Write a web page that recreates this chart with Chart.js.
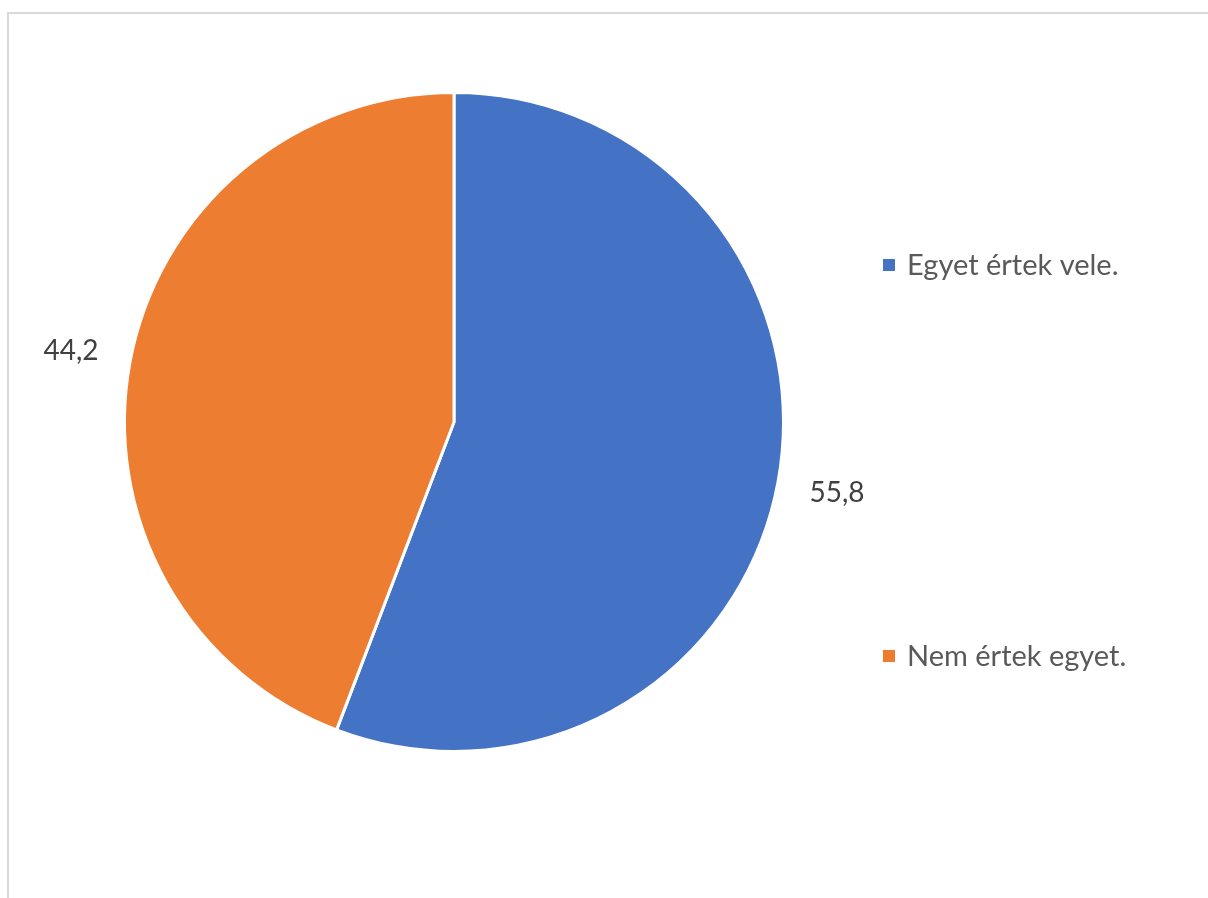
<!DOCTYPE html>
<html>
<head>
<meta charset="utf-8">
<script src="https://cdn.jsdelivr.net/npm/chart.js@4"></script>
<style>
  html, body { margin: 0; padding: 0; background: #fff; }
  #wrap { position: relative; width: 1208px; height: 898px; overflow: hidden; }
  #frame {
    position: absolute; left: 7px; top: 12px; width: 1300px; height: 1000px;
    border-left: 2px solid #d9d9d9; border-top: 2px solid #d9d9d9;
  }
  canvas { position: absolute; left: 0; top: 0; }
</style>
</head>
<body>
<div id="wrap">
  <div id="frame"></div>
  <canvas id="pie" width="1208" height="898"></canvas>
</div>
<script>
// Data
const categories = ['Egyet értek vele.', 'Nem értek egyet.'];
const values = [55.8, 44.2];
const sliceColors = ['#4472C4', '#ED7D31'];

const fontFamily = 'Lato, "Open Sans", sans-serif';

// value labels outside each slice
const valueLabels = {
    id: 'valueLabels',
    afterDatasetsDraw(chart) {
        const ctx = chart.ctx;
        const meta = chart.getDatasetMeta(0);
        ctx.save();
        ctx.font = '28px ' + fontFamily;
        ctx.fillStyle = '#404040';
        ctx.textAlign = 'center';
        ctx.textBaseline = 'middle';
        meta.data.forEach((arc, i) => {
            const mid = (arc.startAngle + arc.endAngle) / 2;
            const r = arc.outerRadius + 60;
            const x = arc.x + Math.cos(mid) * r;
            const y = arc.y + Math.sin(mid) * r;
            ctx.fillText(String(values[i]).replace('.', ','), x, y);
        });
        ctx.restore();
    }
};

// legend on the right, items spread out like the original
const sideLegend = {
    id: 'sideLegend',
    afterDraw(chart) {
        const ctx = chart.ctx;
        const rows = [265, 656];
        ctx.save();
        ctx.font = '29px ' + fontFamily;
        ctx.textBaseline = 'middle';
        categories.forEach((label, i) => {
            ctx.fillStyle = sliceColors[i];
            ctx.fillRect(883, rows[i] - 6, 12, 12);
            ctx.fillStyle = '#595959';
            ctx.fillText(label, 907, rows[i] + 1);
        });
        ctx.restore();
    }
};

new Chart(document.getElementById('pie').getContext('2d'), {
    type: 'pie',
    data: {
        labels: categories,
        datasets: [{
            data: values,
            backgroundColor: sliceColors,
            borderColor: '#ffffff',
            borderWidth: 3
        }]
    },
    options: {
        responsive: false,
        animation: false,
        layout: { padding: { left: 123, right: 423, top: 91, bottom: 145 } },
        plugins: {
            legend: { display: false },
            tooltip: { enabled: false }
        }
    },
    plugins: [valueLabels, sideLegend]
});
</script>
</body>
</html>
